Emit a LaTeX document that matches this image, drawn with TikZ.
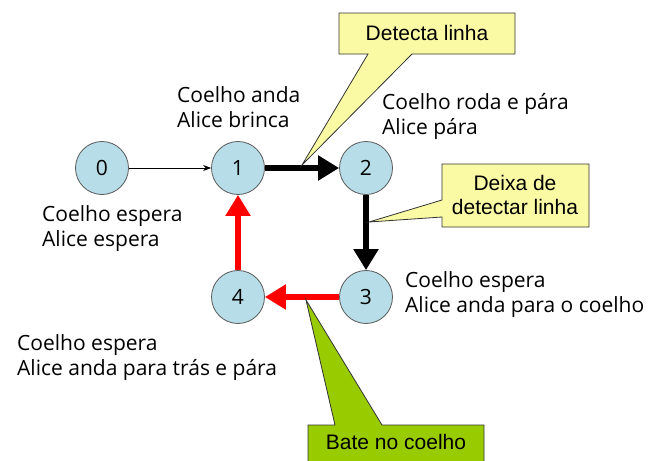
\documentclass[tikz,border=0pt]{standalone}
\usepackage{fontspec}
\setmainfont{Open Sans}
\newfontfamily\notefont{Liberation Sans}
\usetikzlibrary{positioning}
\usetikzlibrary{arrows.meta}

\definecolor{stateblue}{RGB}{183,222,232}
\definecolor{noteyellow}{RGB}{250,250,165}
\definecolor{notegreen}{RGB}{153,204,0}
\definecolor{backred}{RGB}{255,0,0}

\tikzset{
	state/.style = {circle, draw = black!65, line width = 0.8pt, fill = stateblue, minimum size = 53pt, inner sep = 0pt, font = \fontsize{21}{24}\selectfont},
	statetext/.style = {anchor = west, align = left, inner sep = 0pt, font = \fontsize{21}{25}\selectfont},
	move/.style = {line width = 6.5pt, -{Triangle[length = 21pt 0 0, width = 24pt 0 0]}},
	note/.style = {draw = black!80, line width = 0.8pt, line join = miter},
	notetext/.style = {align = center, inner sep = 0pt, font = \notefont\fontsize{21}{24}\selectfont}
}

\begin{document}
\begin{tikzpicture}[x = 1pt, y = -1pt]
					\useasboundingbox (0, 0) rectangle (649, 461);
					\clip (0, 0) rectangle (649, 461);
					% states
					\node [state] (s0) at (102, 168) {0};
					\node [state] (s1) at (238, 168) {1};
					\node [state] (s2) at (366, 168) {2};
					\node [state] (s3) at (366, 297) {3};
					\node [state] (s4) at (238, 297) {4};
					% transitions
					\draw [black, line width = 0.8pt, -{Stealth[length = 8pt, width = 6pt]}] (s0) -- (s1);
					\draw [black, move] (s1) -- (s2);
					\draw [black, move] (s2) -- (s3);
					\draw [backred, move] (s3) -- (s4);
					\draw [backred, move] (s4) -- (s1);
					% what each state does
					\node [statetext] (t0) at (42, 229) {Coelho espera\\Alice espera};
					\node [statetext] (t1) at (177, 107) {Coelho anda\\Alice brinca};
					\node [statetext] (t2) at (382, 116) {Coelho roda e pára\\Alice pára};
					\node [statetext] (t3) at (405, 295) {Coelho espera\\Alice anda para o coelho};
					\node [statetext] (t4) at (17, 358) {Coelho espera\\Alice anda para trás e pára};
					% callouts
					\coordinate (tipa) at (302, 165);
					\coordinate (tipb) at (369, 222);
					\coordinate (tipc) at (306, 300);
					\draw [note, fill = noteyellow] (339, 13) -- (515, 13) -- (515, 54) -- (412, 54) -- (tipa) -- (368, 54) -- (339, 54) -- cycle;
					\node [notetext] (na) at (427, 33) {Detecta linha};
					\draw [note, fill = noteyellow] (442, 164) -- (589, 164) -- (589, 227) -- (442, 227) -- (442, 217) -- (tipb) -- (442, 200) -- cycle;
					\node [notetext] (nb) at (515, 195) {Deixa de\\detectar linha};
					\draw [note, fill = notegreen] (308, 425) -- (335, 425) -- (tipc) -- (382, 425) -- (484, 425) -- (484, 470) -- (308, 470) -- cycle;
					\node [notetext] (nc) at (396, 442) {Bate no coelho};
				\end{tikzpicture}
\end{document}
